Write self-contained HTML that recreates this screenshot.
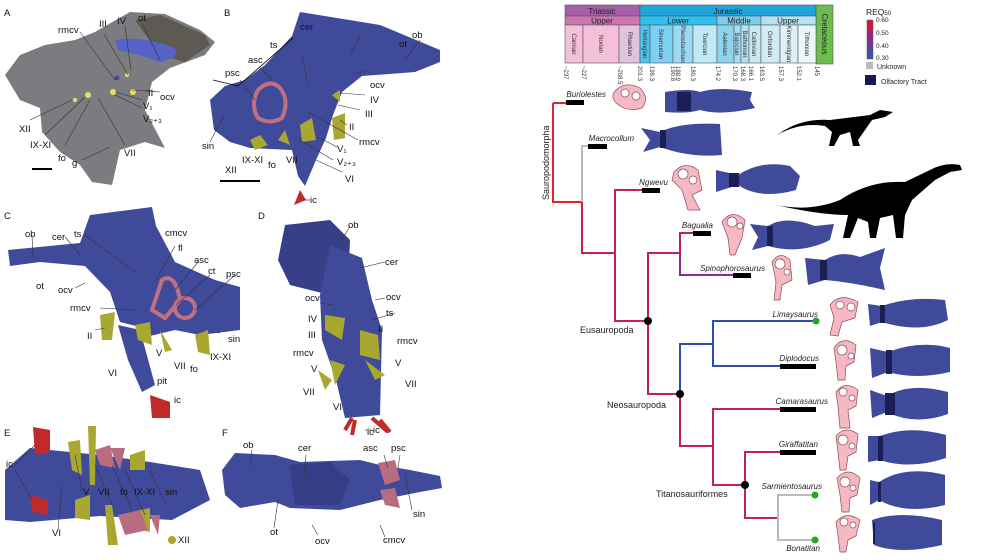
<!DOCTYPE html>
<html><head><meta charset="utf-8"><style>
html,body{margin:0;padding:0;background:#fff;}
svg{display:block;font-family:"Liberation Sans",sans-serif;}
.l{font-size:9.5px;fill:#111;}
.t{font-size:8px;fill:#222;font-style:italic;}
.ld{stroke:#333;stroke-width:0.6;fill:none;}
.br{fill:none;stroke-width:2;}
.st{font-size:6px;fill:#333;}
.bb{fill:#3f4a9b;}
.ot{fill:#1a1f55;}
.ear{fill:#f6b9c4;stroke:#8a4a58;stroke-width:0.7;}
.ew{fill:#fff;stroke:#8a4a58;stroke-width:0.7;}
</style></head><body>
<svg width="995" height="560" viewBox="0 0 995 560" xmlns="http://www.w3.org/2000/svg">
<!-- Panel A -->
<text x="4" y="16" class="l">A</text>
<path d="M5,75 L20,55 L45,45 L75,40 L95,32 L130,12 L165,14 L200,30 L215,42 L205,55 L170,68 L152,82 L145,110 L165,148 L145,142 L120,150 L112,185 L92,182 L80,165 L60,152 L42,132 L40,108 L20,100 Z" fill="#7c7c80"/>
<path d="M135,20 L160,15 L205,35 L210,45 L185,62 L160,55 Z" fill="#5c5a52"/>
<path d="M115,40 Q140,35 175,48 Q180,58 160,62 Q140,55 118,50 Z" fill="#5662c8"/>
<circle cx="113" cy="92" r="3" fill="#e8e060"/><circle cx="133" cy="92" r="3" fill="#e8e060"/><circle cx="88" cy="95" r="3" fill="#e8e060"/><circle cx="75" cy="100" r="2" fill="#e8e060"/><circle cx="127" cy="75" r="2" fill="#e8e060"/><circle cx="117" cy="78" r="2.5" fill="#3f4a9b"/>
<line x1="32" y1="169" x2="52" y2="169" stroke="#000" stroke-width="2"/>
<g class="ld"><path d="M80,32 L115,80"/><path d="M104,34 L128,75"/><path d="M125,26 L131,70"/><path d="M143,25 L160,60"/><path d="M145,90 L158,92"/><path d="M160,92 L132,90"/><path d="M142,100 L116,92"/><path d="M142,108 L115,95"/><path d="M30,120 L72,100"/><path d="M45,135 L85,97"/><path d="M65,145 L90,100"/><path d="M125,145 L98,98"/><path d="M82,160 L110,147"/></g>
<text x="58" y="33" class="l">rmcv</text><text x="99" y="27" class="l">III</text><text x="117" y="24" class="l">IV</text><text x="138" y="21" class="l">ot</text><text x="160" y="100" class="l">ocv</text><text x="148" y="96" class="l">II</text><text x="143" y="109" class="l">V₁</text><text x="143" y="122" class="l">V₂₊₃</text>
<text x="19" y="132" class="l">XII</text><text x="30" y="148" class="l">IX-XI</text><text x="58" y="161" class="l">fo</text><text x="124" y="156" class="l">VII</text><text x="72" y="166" class="l">g</text>
<!-- Panel B -->
<text x="224" y="16" class="l">B</text>
<path d="M300,12 L380,25 L440,50 L440,62 L415,72 L362,76 L342,92 L333,115 L326,138 L316,160 L305,186 L298,176 L292,150 L250,148 L230,142 L214,130 L210,100 L225,86 L245,80 L265,65 L292,36 Z" fill="#3f4a9b"/>
<path d="M258,90 Q270,78 280,88 Q290,100 282,118 Q270,125 258,118 Q250,105 258,90 Z" fill="none" stroke="#c07080" stroke-width="4"/>
<path d="M250,140 L260,135 L268,145 L255,150Z M278,140 L285,130 L290,145Z M300,125 L312,118 L316,140 L302,142Z M332,118 L345,113 L345,138 L334,140Z M332,95 L340,90 L340,102Z" fill="#a8a830"/>
<path d="M300,190 L306,200 L294,205 Z" fill="#c02a2a"/>
<line x1="220" y1="181" x2="260" y2="181" stroke="#000" stroke-width="2"/>
<path d="M213,80 L238,86 L293,38" stroke="#000" fill="none" stroke-width="0.8"/>
<g class="ld"><path d="M361,35 L350,55"/><path d="M420,40 L405,60"/><path d="M370,70 L350,75"/><path d="M365,95 L340,93"/><path d="M360,110 L338,105"/><path d="M347,125 L340,120"/><path d="M358,140 L308,112"/><path d="M337,147 L318,137"/><path d="M333,160 L300,140"/><path d="M342,172 L316,160"/><path d="M302,55 L308,85"/><path d="M260,68 L273,80"/><path d="M240,80 L255,100"/><path d="M210,142 L225,113"/><path d="M302,200 L310,200"/></g>
<text x="300" y="30" class="l">cer</text><text x="412" y="38" class="l">ob</text><text x="399" y="47" class="l">ot</text><text x="270" y="48" class="l">ts</text><text x="248" y="63" class="l">asc</text><text x="225" y="76" class="l">psc</text><text x="370" y="88" class="l">ocv</text><text x="370" y="103" class="l">IV</text><text x="365" y="117" class="l">III</text><text x="349" y="130" class="l">II</text><text x="359" y="145" class="l">rmcv</text><text x="337" y="152" class="l">V₁</text><text x="337" y="165" class="l">V₂₊₃</text><text x="345" y="182" class="l">VI</text><text x="310" y="203" class="l">ic</text>
<text x="202" y="149" class="l">sin</text><text x="225" y="173" class="l">XII</text><text x="242" y="163" class="l">IX-XI</text><text x="268" y="168" class="l">fo</text><text x="286" y="163" class="l">VII</text>
<!-- Panel C -->
<text x="4" y="219" class="l">C</text>
<path d="M8,250 L80,243 L90,215 L152,207 L156,226 L175,262 L215,280 L240,287 L240,330 L200,335 L175,330 L150,336 L136,326 L120,322 L110,292 L85,266 L40,262 L10,266 Z" fill="#3f4a9b"/>
<path d="M118,325 L140,330 L155,385 L142,392 L128,360 Z" fill="#3f4a9b"/>
<path d="M150,395 L170,402 L170,418 L152,418 Z" fill="#c02a2a"/>
<path d="M162,280 Q175,272 180,300 L165,318 L152,310 Z" fill="none" stroke="#c07080" stroke-width="4"/>
<circle cx="185" cy="308" r="10" fill="none" stroke="#c07080" stroke-width="4"/>
<path d="M100,315 L115,312 L112,340 L102,340Z M135,325 L150,322 L152,345 L138,340Z M160,330 L172,350 L165,352Z M195,335 L208,330 L210,355 L198,352Z" fill="#a8a830"/>
<g class="ld"><path d="M32,235 L33,258"/><path d="M65,237 L80,255"/><path d="M85,235 L135,272"/><path d="M175,246 L155,282"/><path d="M198,262 L175,290"/><path d="M210,275 L176,305"/><path d="M235,275 L195,310"/><path d="M100,308 L135,310"/><path d="M220,333 L212,332"/><path d="M75,288 L85,283"/><path d="M95,330 L105,328"/></g>
<text x="25" y="237" class="l">ob</text><text x="52" y="240" class="l">cer</text><text x="74" y="237" class="l">ts</text><text x="165" y="236" class="l">cmcv</text><text x="178" y="251" class="l">fl</text><text x="194" y="263" class="l">asc</text><text x="208" y="274" class="l">ct</text><text x="226" y="277" class="l">psc</text><text x="36" y="289" class="l">ot</text><text x="58" y="293" class="l">ocv</text><text x="70" y="311" class="l">rmcv</text><text x="87" y="339" class="l">II</text><text x="156" y="356" class="l">V</text><text x="174" y="369" class="l">VII</text><text x="190" y="372" class="l">fo</text><text x="210" y="360" class="l">IX-XI</text><text x="228" y="342" class="l">sin</text><text x="108" y="376" class="l">VI</text><text x="157" y="384" class="l">pit</text><text x="174" y="403" class="l">ic</text>
<!-- Panel D -->
<text x="258" y="219" class="l">D</text>
<path d="M285,225 L330,220 L350,240 L348,285 L330,295 L290,285 L278,260 Z" fill="#363f88"/>
<path d="M330,245 L362,258 L372,300 L382,330 L380,415 L345,418 L336,380 L322,340 L320,295 Z" fill="#3f4a9b"/>
<path d="M325,315 L345,318 L342,340 L325,330Z M360,330 L378,335 L380,360 L360,355Z M330,360 L345,365 L335,385Z M365,360 L385,375 L375,380Z M318,370 L332,380 L325,390Z" fill="#a8a830"/>
<path d="M352,418 L345,430 M372,418 L388,432" stroke="#c02a2a" stroke-width="4"/>
<g class="ld"><path d="M350,226 L340,243"/><path d="M385,262 L360,268"/><path d="M320,303 L333,305"/><path d="M385,298 L375,300"/><path d="M395,313 L372,320"/></g>
<text x="348" y="228" class="l">ob</text><text x="385" y="265" class="l">cer</text><text x="305" y="301" class="l">ocv</text><text x="386" y="300" class="l">ocv</text><text x="386" y="316" class="l">ts</text><text x="308" y="322" class="l">IV</text><text x="308" y="338" class="l">III</text><text x="378" y="332" class="l">II</text><text x="397" y="344" class="l">rmcv</text><text x="293" y="356" class="l">rmcv</text><text x="395" y="366" class="l">V</text><text x="311" y="372" class="l">V</text><text x="405" y="387" class="l">VII</text><text x="303" y="395" class="l">VII</text><text x="333" y="410" class="l">VI</text><text x="367" y="435" class="l">ic</text>
<!-- Panel E -->
<text x="4" y="436" class="l">E</text>
<path d="M5,470 L30,448 L100,455 L150,462 L200,470 L210,500 L172,520 L100,516 L30,522 L5,520 Z" fill="#3f4a9b"/>
<path d="M33,427 L50,430 L50,452 L35,455 Z M30,495 L48,500 L48,515 L32,512 Z" fill="#c02a2a"/>
<path d="M68,442 L80,440 L82,475 L72,470Z M88,426 L96,426 L95,485 L90,485Z M75,500 L90,495 L90,520 L75,518Z M105,505 L112,505 L118,545 L108,545Z M130,455 L145,450 L145,470 L130,470Z M140,510 L150,508 L150,532 L140,530Z" fill="#a8a830"/>
<path d="M95,450 L110,445 L115,468 L100,465Z M110,448 L125,448 L120,470Z M118,515 L140,510 L148,530 L125,535Z M150,515 L160,515 L158,535Z" fill="#b86c80"/>
<circle cx="172" cy="540" r="4" fill="#a8a830"/>
<g class="ld"><path d="M15,465 L35,445"/><path d="M15,470 L32,500"/><path d="M58,530 L62,485"/><path d="M82,490 L75,455"/><path d="M112,505 L95,465"/><path d="M132,510 L112,465"/><path d="M145,515 L125,470"/><path d="M166,505 L150,470"/></g>
<text x="6" y="467" class="l">ic</text><text x="52" y="536" class="l">VI</text><text x="83" y="495" class="l">V</text><text x="98" y="495" class="l">VII</text><text x="120" y="495" class="l">fo</text><text x="134" y="495" class="l">IX-XI</text><text x="165" y="495" class="l">sin</text><text x="178" y="543" class="l">XII</text>
<!-- Panel F -->
<text x="222" y="436" class="l">F</text>
<path d="M222,470 L235,453 L275,455 L300,462 L360,460 L380,465 L410,470 L440,476 L442,488 L420,492 L380,500 L340,510 L290,508 L275,502 L240,508 L225,495 Z" fill="#3f4a9b"/>
<path d="M290,465 L330,462 L350,480 L340,505 L295,505 Z" fill="#343d85"/>
<path d="M378,463 L395,460 L400,480 L385,485Z M380,490 L395,488 L400,508 L385,505Z" fill="#b86c80"/>
<path d="M355,420 L352,435 M380,420 L390,432" stroke="#c02a2a" stroke-width="4"/>
<g class="ld"><path d="M252,450 L250,467"/><path d="M306,455 L304,475"/><path d="M274,528 L278,500"/><path d="M318,535 L312,525"/><path d="M384,455 L388,468"/><path d="M400,455 L398,468"/><path d="M412,510 L405,475"/><path d="M385,537 L380,525"/><path d="M365,430 L372,430"/></g>
<text x="243" y="448" class="l">ob</text><text x="298" y="451" class="l">cer</text><text x="363" y="451" class="l">asc</text><text x="391" y="451" class="l">psc</text><text x="270" y="535" class="l">ot</text><text x="315" y="544" class="l">ocv</text><text x="383" y="543" class="l">cmcv</text><text x="413" y="517" class="l">sin</text><text x="373" y="433" class="l">ic</text>

<!-- Timescale -->
<g stroke="#555" stroke-width="0.6">
<rect x="565" y="5" width="75" height="11" fill="#a45fa8"/>
<rect x="640" y="5" width="176" height="11" fill="#1fa4dc"/>
<rect x="816" y="5" width="17" height="59" fill="#6cbd4d"/>
<rect x="565" y="16" width="75" height="9" fill="#cc75b0"/>
<rect x="640" y="16" width="77" height="9" fill="#30c0ef"/>
<rect x="717" y="16" width="44" height="9" fill="#7fcdee"/>
<rect x="761" y="16" width="55" height="9" fill="#b5e2f3"/>
<rect x="565" y="25" width="18" height="38" fill="#f4bfd8"/>
<rect x="583" y="25" width="36" height="38" fill="#f4bfd8"/>
<rect x="619" y="25" width="21" height="38" fill="#e0c3de"/>
<rect x="640" y="25" width="10" height="38" fill="#4ec4ef"/>
<rect x="650" y="25" width="23" height="38" fill="#7cd0f2"/>
<rect x="673" y="25" width="20" height="38" fill="#9ad9f3"/>
<rect x="693" y="25" width="24" height="38" fill="#c1e8f7"/>
<rect x="717" y="25" width="17" height="38" fill="#8fd4ef"/>
<rect x="734" y="25" width="7" height="38" fill="#a8dcf0"/>
<rect x="741" y="25" width="8" height="38" fill="#b4e1f1"/>
<rect x="749" y="25" width="12" height="38" fill="#c8e8f3"/>
<rect x="761" y="25" width="19" height="38" fill="#d1ecf4"/>
<rect x="780" y="25" width="18" height="38" fill="#dcf0f5"/>
<rect x="798" y="25" width="18" height="38" fill="#eaf6f7"/>
</g>
<g font-size="8" fill="#222" text-anchor="middle">
<text x="602" y="14">Triassic</text><text x="728" y="14">Jurassic</text>
<text x="602" y="23.5">Upper</text><text x="678" y="23.5">Lower</text><text x="739" y="23.5">Middle</text><text x="788" y="23.5">Upper</text>
<text transform="translate(822,34) rotate(90)" font-size="8">Cretaceous</text>
</g>
<g class="st" text-anchor="middle">
<text transform="translate(572,44) rotate(90)">Carnian</text>
<text transform="translate(599,44) rotate(90)">Norian</text>
<text transform="translate(628,44) rotate(90)">Rhaetian</text>
<text transform="translate(643,44) rotate(90)">Hettangian</text>
<text transform="translate(659,44) rotate(90)">Sinemurian</text>
<text transform="translate(681,44) rotate(90)">Pliensbachian</text>
<text transform="translate(703,44) rotate(90)">Toarcian</text>
<text transform="translate(723,44) rotate(90)">Aalenian</text>
<text transform="translate(735,44) rotate(90)">Bajocian</text>
<text transform="translate(743,44) rotate(90)">Bathonian</text>
<text transform="translate(752,44) rotate(90)">Callovian</text>
<text transform="translate(768,44) rotate(90)">Oxfordian</text>
<text transform="translate(787,44) rotate(90)">Kimmeridgian</text>
<text transform="translate(805,44) rotate(90)">Tithonian</text>
</g>
<g class="st">
<text transform="translate(564,66) rotate(90)">~237</text><text transform="translate(582,66) rotate(90)">~227</text><text transform="translate(618,66) rotate(90)">~208.5</text><text transform="translate(638,66) rotate(90)">201.3</text><text transform="translate(650,66) rotate(90)">199.3</text><text transform="translate(671,66) rotate(90)">190.8</text><text transform="translate(676,66) rotate(90)">188.9</text><text transform="translate(691,66) rotate(90)">180.3</text><text transform="translate(716,66) rotate(90)">174.2</text><text transform="translate(733,66) rotate(90)">170.3</text><text transform="translate(741,66) rotate(90)">168.3</text><text transform="translate(749,66) rotate(90)">166.1</text><text transform="translate(760,66) rotate(90)">163.5</text><text transform="translate(779,66) rotate(90)">157.3</text><text transform="translate(797,66) rotate(90)">152.1</text><text transform="translate(815,66) rotate(90)">145</text>
</g>
<!-- legend -->
<defs><linearGradient id="g" x1="0" y1="0" x2="0" y2="1"><stop offset="0" stop-color="#e8102a"/><stop offset="0.5" stop-color="#8a2a8a"/><stop offset="1" stop-color="#2f5ab8"/></linearGradient></defs>
<text x="866" y="15" font-size="8.5" fill="#222">REQ<tspan font-size="6">50</tspan></text>
<rect x="867" y="20" width="6" height="39" fill="url(#g)" stroke="#555" stroke-width="0.5"/>
<g font-size="6.5" fill="#222"><text x="876" y="22">0.60</text><text x="876" y="35">0.50</text><text x="876" y="48">0.40</text><text x="876" y="60">0.30</text><text x="877" y="69" font-size="7">Unknown</text><text x="881" y="84" font-size="7">Olfactory Tract</text></g>
<rect x="866" y="62" width="7" height="7" fill="#bbb"/>
<rect x="865" y="75" width="11" height="10" fill="#151a55"/>

<!-- Tree -->
<g class="br">
<path d="M553,103 H566 M553,103 V202 H582" stroke="#e81f2a"/>
<path d="M582,202 V146 H590" stroke="#bbb"/>
<path d="M582,202 V253 H615" stroke="#d21f4a"/>
<path d="M615,253 V190 H642 M615,253 V321 H648" stroke="#c81e5a"/>
<path d="M648,321 V253 H680 V233 H693" stroke="#c01e60"/>
<path d="M680,253 V275 H733" stroke="#8a2a9a"/>
<path d="M648,321 V394 H680" stroke="#c01e60"/>
<path d="M680,394 V344 H713 V321 H815 M713,344 V366 H780" stroke="#2f4eb0"/>
<path d="M680,394 V446 H713 V409 H780 M713,446 V485 H745 V452 H780 M745,485 V518 H778" stroke="#c81e5a"/>
<path d="M778,518 V495 H815 M778,518 V540 H815" stroke="#bbb"/>
</g>
<g fill="#000">
<rect x="566" y="100" width="18" height="5"/><rect x="588" y="144" width="19" height="5"/><rect x="642" y="188" width="18" height="5"/><rect x="693" y="231" width="18" height="5"/><rect x="733" y="273" width="18" height="5"/><rect x="780" y="364" width="36" height="5"/><rect x="780" y="407" width="36" height="5"/><rect x="780" y="450" width="36" height="5"/>
<circle cx="648" cy="321" r="4"/><circle cx="680" cy="394" r="4"/><circle cx="745" cy="485" r="4"/>
</g>
<g fill="#2a2"><circle cx="816" cy="321" r="3.5"/><circle cx="815" cy="495" r="3.5"/><circle cx="815" cy="540" r="3.5"/></g>
<g class="t" text-anchor="end">
<text x="606" y="97">Buriolestes</text><text x="634" y="141">Macrocollum</text><text x="668" y="185">Ngwevu</text><text x="713" y="228">Bagualia</text><text x="765" y="271">Spinophorosaurus</text><text x="818" y="317">Limaysaurus</text><text x="819" y="361">Diplodocus</text><text x="828" y="404">Camarasaurus</text><text x="818" y="447">Giraffatitan</text><text x="822" y="489">Sarmientosaurus</text><text x="820" y="551">Bonatitan</text>
</g>
<text transform="translate(549,200) rotate(-90)" font-size="9" fill="#222">Sauropodomorpha</text>
<text x="580" y="333" font-size="9" fill="#222">Eusauropoda</text>
<text x="607" y="408" font-size="9" fill="#222">Neosauropoda</text>
<text x="656" y="497" font-size="9" fill="#222">Titanosauriformes</text>

<!-- silhouettes -->
<path d="M777,135 Q800,118 830,120 L870,115 L880,110 L893,112 L885,117 L872,120 L865,130 L858,140 L860,146 L853,146 L850,132 L840,135 L834,146 L829,146 L832,132 L825,126 Q800,122 777,135 Z" fill="#000"/>
<path d="M776,205 Q810,212 840,200 Q870,180 905,182 L930,170 Q945,162 960,165 L962,170 L950,172 L935,180 L912,200 L905,215 L903,238 L896,238 L893,215 L880,218 L876,238 L870,238 L868,222 L858,218 L850,238 L843,238 L848,215 Q820,215 776,205 Z" fill="#000"/>

<!-- endocasts -->
<g class="bb">
<path d="M665,92 Q690,88 700,92 Q720,86 752,92 L750,100 L755,108 Q720,116 700,110 Q688,114 665,112 Z"/>
<path d="M641,128 L660,132 Q680,122 720,124 L722,155 Q690,158 660,147 L643,152 L650,140 Z"/>
<path d="M716,170 L738,175 Q760,160 790,166 L800,176 L796,190 Q760,200 738,185 L716,192 Z"/>
<path d="M750,224 L768,226 Q785,215 815,226 L834,224 L830,240 Q800,255 768,246 L752,250 L758,237 Z"/>
<path d="M805,258 L825,260 Q840,250 860,257 L885,248 L880,268 L885,290 Q850,282 825,280 L808,285 Z"/>
<path d="M868,304 L882,306 Q910,296 945,300 L948,320 Q920,334 882,322 L870,326 Z"/>
<path d="M870,348 L888,352 Q920,340 950,348 L950,372 Q915,380 888,372 L872,378 Z"/>
<path d="M870,390 L887,396 Q910,382 948,392 L948,414 Q915,426 887,412 L872,418 Z"/>
<path d="M868,436 L880,436 Q910,425 946,435 L946,458 Q910,470 880,460 L868,462 Z"/>
<path d="M870,480 L879,482 Q905,465 945,475 L945,505 Q905,515 879,500 L870,505 Z"/>
<path d="M872,520 Q900,510 942,520 L942,545 Q900,555 874,545 Z"/>
</g>
<g class="ot">
<rect x="677" y="92" width="14" height="19"/><rect x="660" y="130" width="6" height="18"/><rect x="729" y="173" width="10" height="14"/><rect x="767" y="226" width="6" height="20"/><rect x="820" y="260" width="7" height="20"/><rect x="880" y="305" width="5" height="18"/><rect x="886" y="350" width="6" height="24"/><rect x="885" y="393" width="10" height="22"/><rect x="878" y="436" width="5" height="25"/><rect x="878" y="482" width="3" height="20"/><rect x="873" y="522" width="2" height="22"/>
</g>
<!-- ears -->
<g>
<path class="ear" d="M614,92 Q625,80 640,88 Q650,98 642,108 Q630,112 620,106 Q610,100 614,92Z"/><circle class="ew" cx="625" cy="93" r="4"/><circle class="ew" cx="636" cy="96" r="4"/>
<path class="ear" d="M674,172 Q685,160 698,170 L702,190 L692,195 L700,210 L688,210 L682,190 L672,180 Z"/><circle class="ew" cx="683" cy="174" r="5"/><circle class="ew" cx="693" cy="180" r="4"/>
<path class="ear" d="M722,222 Q732,208 745,220 L742,238 L735,255 L730,255 L728,238 Z"/><circle class="ew" cx="732" cy="222" r="5"/><circle class="ew" cx="740" cy="226" r="3"/>
<path class="ear" d="M772,262 Q780,250 790,260 L792,280 L782,285 L780,300 L774,300 L776,282 Z"/><circle class="ew" cx="780" cy="264" r="5"/><circle class="ew" cx="787" cy="272" r="3"/>
<path class="ear" d="M830,305 Q840,292 858,302 L855,318 L842,322 L838,336 L830,335 L834,318 Z"/><circle class="ew" cx="840" cy="305" r="4"/><circle class="ew" cx="851" cy="307" r="4"/>
<path class="ear" d="M834,348 Q842,335 856,345 L854,362 L846,366 L845,380 L838,380 L836,362 Z"/><circle class="ew" cx="842" cy="350" r="5"/><circle class="ew" cx="851" cy="356" r="3"/>
<path class="ear" d="M836,392 Q845,380 858,390 L856,406 L848,410 L850,428 L840,428 L838,406 Z"/><circle class="ew" cx="843" cy="392" r="4"/><circle class="ew" cx="852" cy="398" r="3"/>
<path class="ear" d="M836,436 Q845,425 858,434 L856,452 L848,456 L846,470 L840,470 L838,452 Z"/><circle class="ew" cx="843" cy="440" r="5"/><circle class="ew" cx="852" cy="446" r="3"/>
<path class="ear" d="M837,478 Q848,466 860,478 L857,495 L850,498 L849,512 L842,512 L840,495 Z"/><circle class="ew" cx="845" cy="482" r="5"/><circle class="ew" cx="853" cy="488" r="3"/>
<path class="ear" d="M836,522 Q846,510 860,520 L856,536 L848,540 L846,552 L840,552 L838,536 Z"/><circle class="ew" cx="844" cy="522" r="4"/><circle class="ew" cx="853" cy="525" r="3"/>
</g>
</svg>
</body></html>
